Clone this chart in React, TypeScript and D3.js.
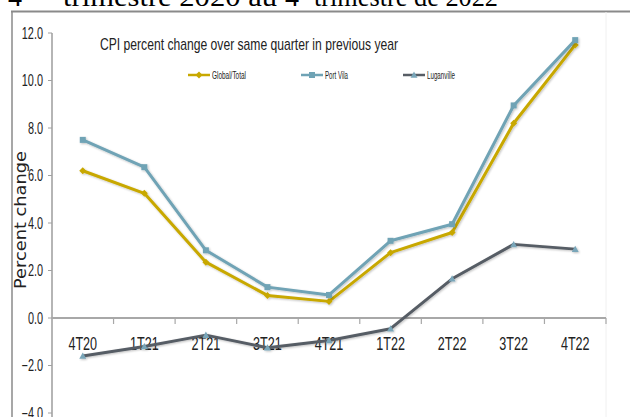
import React from "react";
import * as d3 from "d3";

const categories = ["4T20", "1T21", "2T21", "3T21", "4T21", "1T22", "2T22", "3T22", "4T22"];
const globalTotal = [6.2, 5.25, 2.35, 0.95, 0.7, 2.75, 3.6, 8.2, 11.5];
const portVila = [7.5, 6.35, 2.85, 1.3, 0.97, 3.25, 3.95, 8.95, 11.7];
const luganville = [-1.6, -1.2, -0.72, -1.25, -0.95, -0.45, 1.65, 3.1, 2.9];
const yTicks = [12, 10, 8, 6, 4, 2, 0, -2, -4];
const seriesNames = ["Global/Total", "Port Vila", "Luganville"];

const W = 630;
const H = 417;
const NARROW = "'Liberation Sans Narrow', 'Liberation Sans', Arial, sans-serif";

export default function App() {
  const x = d3.scaleBand<string>().domain(categories).range([52, 606]).padding(0);
  const y = d3.scaleLinear().domain([-4, 12]).range([413, 33]);
  const cx = (c: string) => (x(c) as number) + x.bandwidth() / 2;

  const line = d3
    .line<number>()
    .x((_, i) => cx(categories[i]))
    .y((d) => y(d));

  const colors = ["#C8A800", "#6FA3B5", "#575D65"];
  const series = [globalTotal, portVila, luganville];

  const marker = (k: number, px: number, py: number, key: string) => {
    if (k === 0) {
      const s = 3.5;
      return (
        <path
          key={key}
          d={`M${px},${py - s}L${px + s},${py}L${px},${py + s}L${px - s},${py}Z`}
          fill={colors[0]}
        />
      );
    }
    if (k === 1) {
      return <rect key={key} x={px - 3} y={py - 3} width={6} height={6} fill={colors[1]} />;
    }
    const s = 3.5;
    return (
      <path
        key={key}
        d={`M${px},${py - s}L${px + s},${py + s * 0.8}L${px - s},${py + s * 0.8}Z`}
        fill="#79A6B9"
      />
    );
  };

  const legendX = [188, 301, 403];
  const legendLen = [34, 23, 28];
  const legendY = 75;

  return (
    <svg
      width={W}
      height={H}
      style={{ position: "absolute", left: 0, top: 0, background: "#fff" }}
      xmlns="http://www.w3.org/2000/svg"
    >
      <defs>
        <filter id="sh" x="-10%" y="-10%" width="120%" height="130%">
          <feGaussianBlur in="SourceAlpha" stdDeviation="1" />
          <feOffset dx="0.5" dy="1" result="b" />
          <feComponentTransfer>
            <feFuncA type="linear" slope="0.25" />
          </feComponentTransfer>
          <feMerge>
            <feMergeNode />
            <feMergeNode in="SourceGraphic" />
          </feMerge>
        </filter>
      </defs>

      {/* cut-off heading above the chart */}
      <text fontFamily="'Liberation Serif', 'Times New Roman', serif" fontSize={28} y={6} fill="#000">
        <tspan x={8}>4</tspan>
        <tspan fontSize={9} dy={-12}>ème</tspan>
        <tspan x={63} dy={12} textLength={214} lengthAdjust="spacingAndGlyphs">trimestre 2020 au</tspan>
        <tspan x={285}>4</tspan>
        <tspan fontSize={9} dy={-12}>ème</tspan>
        <tspan x={314} dy={12} textLength={184} lengthAdjust="spacingAndGlyphs">trimestre de 2022</tspan>
      </text>

      {/* frame */}
      <line x1={11} y1={11.5} x2={W} y2={11.5} stroke="#8a8a8a" strokeWidth={2} />
      <line x1={12} y1={11} x2={12} y2={H} stroke="#8a8a8a" strokeWidth={1.5} />
      <line x1={606} y1={12} x2={606} y2={H} stroke="#f0f0f0" strokeWidth={1} />

      {/* y axis */}
      <line x1={52} y1={y(12)} x2={52} y2={H} stroke="#b5b5b5" strokeWidth={2} />
      {yTicks.map((t) => (
        <g key={t}>
          <line x1={48} x2={52} y1={y(t)} y2={y(t)} stroke="#a0a0a0" strokeWidth={1} />
          <text
            transform={`translate(43,${y(t) + 5.5}) scale(0.68,1)`}
            textAnchor="end"
            fontFamily={NARROW}
            fontSize={16}
            fill="#222"
          >
            {d3.format(".1f")(t)}
          </text>
        </g>
      ))}

      {/* x axis */}
      <line x1={52} x2={606} y1={y(0)} y2={y(0)} stroke="#a8a8a8" strokeWidth={2} />
      {categories.map((c) => (
        <line
          key={"t" + c}
          x1={(x(c) as number) + x.bandwidth()}
          x2={(x(c) as number) + x.bandwidth()}
          y1={y(0)}
          y2={y(0) + 6}
          stroke="#a8a8a8"
          strokeWidth={1.2}
        />
      ))}
      {categories.map((c) => (
        <text
          key={"l" + c}
          transform={`translate(${cx(c)},350) scale(0.7,1)`}
          textAnchor="middle"
          fontFamily={NARROW}
          fontSize={18}
          fill="#222"
        >
          {c}
        </text>
      ))}

      {/* y axis title */}
      <text
        transform="translate(26,220) rotate(-90)"
        textAnchor="middle"
        fontFamily="'DejaVu Sans', Verdana, sans-serif"
        fontSize={15}
        textLength={138}
        lengthAdjust="spacingAndGlyphs"
        fill="#222"
      >
        Percent change
      </text>

      {/* chart title */}
      <text
        x={100}
        y={50}
        fontFamily={NARROW}
        fontSize={17}
        textLength={298}
        lengthAdjust="spacingAndGlyphs"
        fill="#222"
      >
        CPI percent change over same quarter in previous year
      </text>

      {/* legend */}
      {seriesNames.map((n, k) => (
        <g key={n}>
          <line
            x1={legendX[k]}
            x2={legendX[k] + 22}
            y1={legendY}
            y2={legendY}
            stroke={colors[k]}
            strokeWidth={2.5}
          />
          {marker(k, legendX[k] + 11, legendY, "lm" + k)}
          <text
            x={legendX[k] + 24}
            y={legendY + 3.5}
            fontFamily={NARROW}
            fontSize={10}
            textLength={legendLen[k]}
            lengthAdjust="spacingAndGlyphs"
            fill="#222"
          >
            {n}
          </text>
        </g>
      ))}

      {/* series */}
      {series.map((s, k) => (
        <g key={"s" + k} filter="url(#sh)">
          <path d={line(s) as string} fill="none" stroke={colors[k]} strokeWidth={3} strokeLinejoin="round" />
          {s.map((v, i) => marker(k, cx(categories[i]), y(v), `m${k}-${i}`))}
        </g>
      ))}
    </svg>
  );
}
